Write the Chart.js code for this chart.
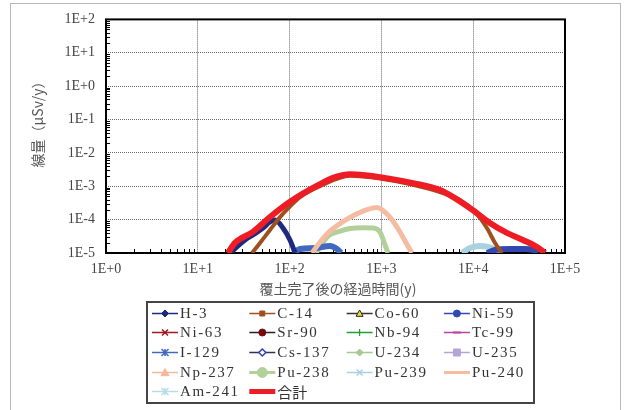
<!DOCTYPE html>
<html>
<head>
<meta charset="utf-8">
<script src="https://cdn.jsdelivr.net/npm/chart.js@4/dist/chart.umd.min.js"></script>
<style>
  html, body { margin: 0; background: #fff; }
  canvas { display: block; }
</style>
</head>
<body>
<canvas id="doseChart" width="630" height="410"></canvas>
<script>
// decades shown on the axes
const xDecades = [1, 10, 100, 1000, 10000, 100000];
const yDecades = [1e-5, 1e-4, 1e-3, 1e-2, 1e-1, 1, 10, 100];

// years after cover completion / dose (uSv/y)
const h3Years = [22.4, 32.7, 39.9, 51.3, 61.1, 69.3, 84.7, 101, 115];
const h3Dose = [1e-5, 2.45e-5, 3.5e-5, 5.6e-5, 8.5e-5, 9.7e-5, 5.6e-5, 2.45e-5, 1e-5];

const c14Years = [38.9, 47.6, 61.1, 78.6, 100, 130, 214, 455, 966, 2210, 4350, 7180, 10470, 14100, 17300, 20600];
const c14Dose = [1e-5, 2.0e-5, 4.9e-5, 1.19e-4, 2.4e-4, 4.7e-4, 1.0e-3, 2.05e-3, 1.7e-3, 1.1e-3, 6.7e-4, 3.9e-4, 1.7e-4, 5.6e-5, 2.0e-5, 1e-5];

const ni59Years = [14100, 17300, 25200, 36700, 44800, 50800];
const ni59Dose = [1e-5, 1.23e-5, 1.32e-5, 1.32e-5, 1.23e-5, 1e-5];

const i129Years = [109, 130, 189, 275, 328, 363];
const i129Dose = [1e-5, 1.32e-5, 1.41e-5, 1.62e-5, 1.32e-5, 1e-5];

const pu238Years = [194, 262, 354, 455, 631, 810, 966, 1070, 1180];
const pu238Dose = [1e-5, 3.2e-5, 4.5e-5, 5.4e-5, 5.7e-5, 5.6e-5, 4.25e-5, 2.1e-5, 1e-5];

const pu239Years = [7550, 9230, 11850, 16000, 20600];
const pu239Dose = [1e-5, 1.41e-5, 1.62e-5, 1.41e-5, 1e-5];

const pu240Years = [175, 214, 275, 422, 631, 896, 1150, 1480, 1810, 2150];
const pu240Dose = [1e-5, 2.1e-5, 4.5e-5, 1.04e-4, 1.8e-4, 2.3e-4, 1.47e-4, 6.0e-5, 2.3e-5, 1e-5];

const totalYears = [21.3, 25.4, 39.9, 61.1, 100, 214, 313, 455, 663, 966, 2210, 4350, 5580, 9950, 15200, 23300, 34800, 49500, 60500];
const totalDose = [1e-5, 2.0e-5, 4.3e-5, 1.2e-4, 3.4e-4, 1.16e-3, 1.88e-3, 2.3e-3, 2.15e-3, 1.88e-3, 1.24e-3, 7.7e-4, 5.4e-4, 1.9e-4, 7.9e-5, 4.0e-5, 2.45e-5, 1.51e-5, 1e-5];

const serif = '"Liberation Serif", "Noto Sans CJK JP", serif';
const jp = '"Noto Sans CJK JP", sans-serif';

function pts(xs, ys) {
  return xs.map((x, i) => ({ x: x, y: ys[i] }));
}

// label, data, line colour, plot width, legend line width, legend marker, draw order
function series(label, xs, ys, color, width, legendWidth, marker, order) {
  return {
    label: label,
    data: pts(xs, ys),
    borderColor: color,
    borderWidth: width,
    pointRadius: 0,
    cubicInterpolationMode: 'monotone',
    order: order,
    legendWidth: legendWidth,
    legendMarker: marker
  };
}

const datasets = [
  series('H-3', h3Years, h3Dose, '#1e2a80', 5, 1.5, { style: 'diamond', r: 3.5, fill: '#1e2a80', stroke: '#1e2a80' }, 3),
  series('C-14', c14Years, c14Dose, '#a0501e', 4, 1.5, { style: 'square', r: 2.5, fill: '#a0501e', stroke: '#a0501e' }, 1),
  series('Co-60', [], [], '#333333', 2, 1.5, { style: 'triangle', r: 3.5, fill: '#f0e030', stroke: '#222' }, 3),
  series('Ni-59', ni59Years, ni59Dose, '#3048b0', 6, 1.5, { style: 'circle', r: 3.5, fill: '#3048b0', stroke: '#3048b0' }, 3),
  series('Ni-63', [], [], '#a01820', 2, 1.5, { style: 'cross', r: 3, stroke: '#a01820', lw: 1.5 }, 3),
  series('Sr-90', [], [], '#222222', 2, 1.5, { style: 'circle', r: 3.5, fill: '#7a0a0a', stroke: '#7a0a0a' }, 3),
  series('Nb-94', [], [], '#20a030', 2, 1.5, { style: 'plus', r: 3.5, stroke: '#20a030', lw: 1.2 }, 3),
  series('Tc-99', [], [], '#c040a0', 2, 1.5, { style: 'dash', r: 4, stroke: '#c040a0', lw: 2 }, 3),
  series('I-129', i129Years, i129Dose, '#4068c0', 6, 1.5, { style: 'star', r: 3.5, stroke: '#4068c0', lw: 1.5 }, 3),
  series('Cs-137', [], [], '#303050', 2, 1.5, { style: 'diamond', r: 3.5, fill: '#ffffff', stroke: '#3040b0', lw: 1.5 }, 3),
  series('U-234', [], [], '#a8c890', 2, 1.5, { style: 'diamond', r: 3.5, fill: '#a8c890', stroke: '#a8c890' }, 3),
  series('U-235', [], [], '#b4a6d4', 2, 1.5, { style: 'square', r: 3.5, fill: '#b4a6d4', stroke: '#b4a6d4' }, 3),
  series('Np-237', [], [], '#f6b89a', 2, 1.5, { style: 'triangle', r: 4, fill: '#f6b89a', stroke: '#f6b89a' }, 3),
  series('Pu-238', pu238Years, pu238Dose, '#b2d09a', 5, 3, { style: 'circle', r: 5, fill: '#b2d09a', stroke: '#b2d09a' }, 3),
  series('Pu-239', pu239Years, pu239Dose, '#a8d2e2', 6, 1.5, { style: 'cross', r: 3, stroke: '#a8d2e2', lw: 1.5 }, 3),
  series('Pu-240', pu240Years, pu240Dose, '#f5bca2', 5, 3, null, 2),
  series('Am-241', [], [], '#b8dcea', 2, 1.5, { style: 'star', r: 3.5, stroke: '#b8dcea', lw: 1.5 }, 3),
  series('合計', totalYears, totalDose, '#ee1c24', 6, 5, null, 0)
];

function expLabel(v) {
  const e = Math.round(Math.log10(v));
  return '1E' + (e < 0 ? '-' : '+') + Math.abs(e);
}

function drawMarker(ctx, m, x, y) {
  if (!m) return;
  const r = m.r;
  let closed = true;
  ctx.save();
  ctx.setLineDash([]);
  ctx.strokeStyle = m.stroke;
  ctx.lineWidth = m.lw || 1;
  ctx.beginPath();
  if (m.style === 'diamond') {
    ctx.moveTo(x, y - r); ctx.lineTo(x + r, y); ctx.lineTo(x, y + r); ctx.lineTo(x - r, y); ctx.closePath();
  } else if (m.style === 'circle') {
    ctx.arc(x, y, r, 0, Math.PI * 2);
  } else if (m.style === 'square') {
    ctx.rect(x - r, y - r, r * 2, r * 2);
  } else if (m.style === 'triangle') {
    ctx.moveTo(x, y - r); ctx.lineTo(x + r, y + r * 0.8); ctx.lineTo(x - r, y + r * 0.8); ctx.closePath();
  } else {
    closed = false;
    if (m.style === 'cross' || m.style === 'star') {
      ctx.moveTo(x - r, y - r); ctx.lineTo(x + r, y + r);
      ctx.moveTo(x + r, y - r); ctx.lineTo(x - r, y + r);
    }
    if (m.style === 'plus' || m.style === 'star') {
      ctx.moveTo(x, y - r); ctx.lineTo(x, y + r);
    }
    if (m.style === 'plus' || m.style === 'dash') {
      ctx.moveTo(x - r, y); ctx.lineTo(x + r, y);
    }
  }
  if (closed && m.fill) {
    ctx.fillStyle = m.fill;
    ctx.fill();
  }
  ctx.stroke();
  ctx.restore();
}

// plot frame and small inner tick marks
const framePlugin = {
  id: 'frame',
  beforeDatasetsDraw(chart) {
    const { ctx, chartArea: a, scales } = chart;
    ctx.save();
    ctx.strokeStyle = '#000';
    ctx.lineWidth = 1;
    ctx.beginPath();
    for (let k = 0; k < 5; k++) {
      for (let m = 2; m <= 9; m++) {
        const x = Math.round(scales.x.getPixelForValue(m * Math.pow(10, k))) + 0.5;
        ctx.moveTo(x, a.bottom); ctx.lineTo(x, a.bottom - 4);
      }
    }
    for (let k = -5; k < 2; k++) {
      for (let m = 2; m <= 9; m++) {
        const y = Math.round(scales.y.getPixelForValue(m * Math.pow(10, k))) + 0.5;
        ctx.moveTo(a.left, y); ctx.lineTo(a.left + 4, y);
      }
    }
    ctx.stroke();
    ctx.lineWidth = 2;
    ctx.strokeRect(a.left, a.top, a.right - a.left, a.bottom - a.top);
    ctx.restore();
  },
  afterDraw(chart) {
    const ctx = chart.ctx;
    ctx.save();
    // outer light frame
    ctx.strokeStyle = '#b8b8b8';
    ctx.lineWidth = 1;
    ctx.strokeRect(10.5, 3.5, 610, 430);

    // axis titles
    ctx.fillStyle = '#555';
    ctx.font = '14px ' + jp;
    ctx.textAlign = 'center';
    ctx.textBaseline = 'middle';
    ctx.fillText('覆土完了後の経過時間(y)', 338, 289);
    ctx.translate(38, 121);
    ctx.rotate(-Math.PI / 2);
    ctx.fillText('線量（μSv/y）', 0, 0);
    ctx.restore();

    // boxed legend, four columns
    ctx.save();
    ctx.strokeStyle = '#444';
    ctx.lineWidth = 2;
    ctx.strokeRect(147, 302, 387, 101);
    ctx.textBaseline = 'middle';
    ctx.textAlign = 'left';
    chart.data.datasets.forEach((ds, i) => {
      const col = i % 4, row = Math.floor(i / 4);
      const x = 152 + col * 97.3;
      const y = Math.round(312.5 + row * 19.7) + 0.5;
      ctx.strokeStyle = ds.borderColor;
      ctx.lineWidth = ds.legendWidth;
      ctx.beginPath();
      ctx.moveTo(x, y); ctx.lineTo(x + 26, y);
      ctx.stroke();
      drawMarker(ctx, ds.legendMarker, x + 13, y);
      ctx.fillStyle = '#333';
      const cjk = /[^\x00-\x7f]/.test(ds.label);
      ctx.font = '15px ' + (cjk ? jp : serif);
      ctx.letterSpacing = cjk ? '0px' : '1.6px';
      ctx.fillText(ds.label, x + 28, y + 1);
    });
    ctx.restore();
  }
};

new Chart(document.getElementById('doseChart').getContext('2d'), {
  type: 'line',
  data: { datasets: datasets },
  options: {
    responsive: false,
    animation: false,
    layout: { padding: { top: 19, right: 65, left: 0, bottom: 0 } },
    plugins: { legend: { display: false }, tooltip: { enabled: false } },
    scales: {
      x: {
        type: 'logarithmic',
        min: 1,
        max: 1e5,
        afterFit: s => { s.height = 157; },
        afterBuildTicks: s => { s.ticks = xDecades.map(v => ({ value: v })); },
        grid: { color: '#666', lineWidth: 1, drawTicks: false },
        border: { display: false, dash: [1, 1] },
        ticks: {
          autoSkip: false, maxRotation: 0, padding: 8, color: '#444',
          font: { family: serif, size: 14 },
          callback: v => expLabel(v)
        }
      },
      y: {
        type: 'logarithmic',
        min: 1e-5,
        max: 100,
        afterFit: s => { s.width = 106; },
        afterBuildTicks: s => { s.ticks = yDecades.map(v => ({ value: v })); },
        grid: { color: '#666', lineWidth: 1, drawTicks: false },
        border: { display: false, dash: [1, 1] },
        ticks: {
          autoSkip: false, padding: 11, color: '#444',
          font: { family: serif, size: 14 },
          callback: v => expLabel(v)
        }
      }
    }
  },
  plugins: [framePlugin]
});
</script>
</body>
</html>
